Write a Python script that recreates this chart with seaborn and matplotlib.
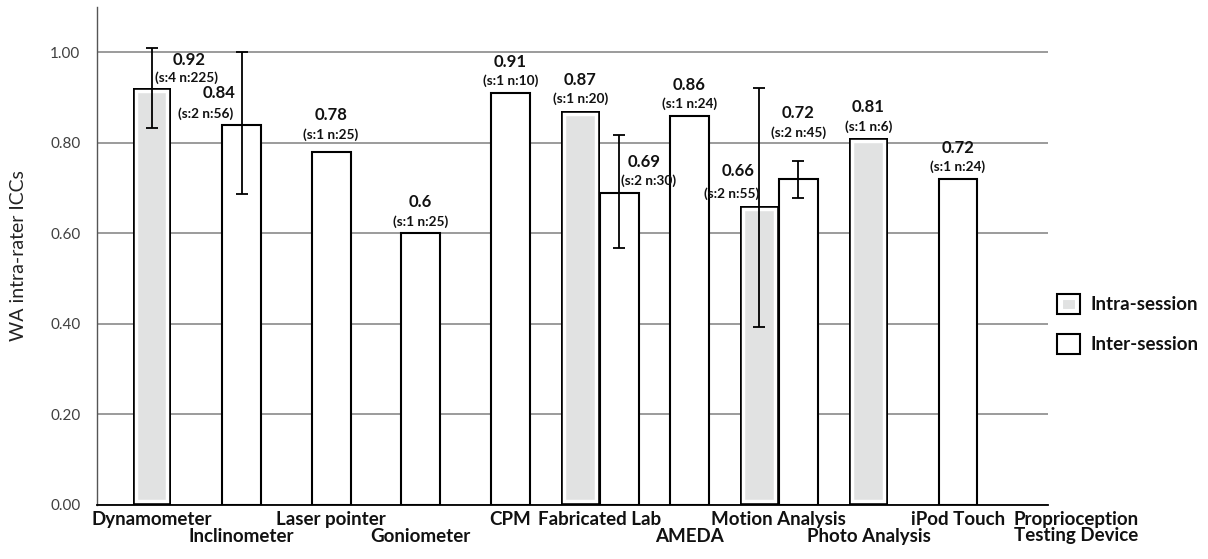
import numpy as np
import pandas as pd
import matplotlib
matplotlib.use("Agg")
import matplotlib.pyplot as plt
import matplotlib.patheffects as pe
from matplotlib.patches import Patch
from matplotlib.transforms import ScaledTranslation
import seaborn as sns

# ---------------- data ----------------
categories = ["Dynamometer", "Inclinometer", "Laser pointer", "Goniometer", "CPM",
              "Fabricated Lab", "AMEDA", "Motion Analysis", "Photo Analysis",
              "iPod Touch", "Proprioception Testing Device"]
tick_labels = ["Dynamometer", "Inclinometer", "Laser pointer", "Goniometer", "CPM",
               "Fabricated Lab", "AMEDA", "Motion Analysis", "Photo Analysis",
               "iPod Touch", "Proprioception\nTesting Device"]

bar_category = ["Dynamometer", "Inclinometer", "Laser pointer", "Goniometer", "CPM",
                "Fabricated Lab", "Fabricated Lab", "AMEDA", "Motion Analysis",
                "Motion Analysis", "Photo Analysis", "iPod Touch"]
bar_session = ["Intra-session", "Inter-session", "Inter-session", "Inter-session",
               "Inter-session", "Intra-session", "Inter-session", "Inter-session",
               "Intra-session", "Inter-session", "Intra-session", "Inter-session"]
bar_icc = [0.92, 0.84, 0.78, 0.60, 0.91, 0.87, 0.69, 0.86, 0.66, 0.72, 0.81, 0.72]
bar_studies = [4, 2, 1, 1, 1, 1, 2, 1, 2, 2, 1, 1]
bar_n = [225, 56, 25, 25, 10, 20, 30, 24, 55, 45, 6, 24]
ci_low = [0.832, 0.686, np.nan, np.nan, np.nan, np.nan, 0.567, np.nan, 0.393, 0.678, np.nan, np.nan]
ci_high = [1.009, 1.000, np.nan, np.nan, np.nan, np.nan, 0.817, np.nan, 0.922, 0.759, np.nan, np.nan]

sessions = ["Intra-session", "Inter-session"]

# ---------------- layout helpers ----------------
second_row_ticks = [1, 3, 6, 8]          # staggered x labels (lower row)
shifted_ticks = {10: 29}                 # extra horizontal shift (px)
label_offsets = {                        # (dx_val, dy_val, dx_sub, dy_sub) in px
    0: (37, 28, 35, 11),
    1: (-22, 32, -36, 11),
    2: (0, 37, 0, 17),
    6: (25, 31, 29, 12),
    8: (-21, 35, -28, 13),
    9: (0, 66, 0, 46),
}

# ---------------- style ----------------
sns.set_style("white")
plt.rcParams["font.family"] = ["Lato", "DejaVu Sans"]

GREY = "#e1e2e2"
palette = {"Intra-session": GREY, "Inter-session": "white"}

df = pd.DataFrame({"category": bar_category, "session": bar_session, "icc": bar_icc,
                   "s": bar_studies, "n": bar_n, "lo": ci_low, "hi": ci_high})
counts = df["category"].value_counts()
df["paired"] = df["category"].map(counts) > 1

fig = plt.figure(figsize=(12.08, 5.59), dpi=100)
ax = fig.add_axes([97 / 1208, 1 - 505 / 559, (1048 - 97) / 1208, 498 / 559])

common = dict(x="category", y="icc", hue="session", order=categories, hue_order=sessions,
              palette=palette, edgecolor="black", linewidth=1.5, saturation=1,
              errorbar=None, legend=False, ax=ax, zorder=3)
sns.barplot(data=df[~df["paired"]], dodge=False, width=0.435, **common)
sns.barplot(data=df[df["paired"]], dodge=True, width=0.87, **common)

# locate the bar of every row
cat_idx = {c: i for i, c in enumerate(categories)}
bars = []
for _, r in df.iterrows():
    best = None
    for p in ax.patches:
        cx = p.get_x() + p.get_width() / 2
        if round(cx) == cat_idx[r["category"]] and abs(p.get_height() - r["icc"]) < 1e-9:
            fc = matplotlib.colors.to_hex(p.get_facecolor())
            if fc == matplotlib.colors.to_hex(palette[r["session"]]):
                best = p
    bars.append(best)

# intra-session bars: soft grey core inside a white margin
for p, sess in zip(bars, df["session"]):
    if sess == "Intra-session":
        p.set_path_effects([pe.Stroke(linewidth=7.5, foreground="white"),
                            pe.PathPatchEffect(facecolor="none", edgecolor="black", linewidth=2.6)])
        p.set_clip_path(p)

# error bars
for p, (_, r) in zip(bars, df.iterrows()):
    if not np.isnan(r["lo"]):
        cx = p.get_x() + p.get_width() / 2
        ax.errorbar([cx], [r["icc"]], yerr=[[r["icc"] - r["lo"]], [r["hi"] - r["icc"]]],
                    fmt="none", ecolor="black", elinewidth=1.3, capsize=4.5, capthick=1.3,
                    zorder=5)

# value labels
k = 0.72
for i, (p, (_, r)) in enumerate(zip(bars, df.iterrows())):
    cx = p.get_x() + p.get_width() / 2
    dxv, dyv, dxs, dys = label_offsets.get(i, (0, 31, 0, 12))
    ax.annotate(f"{r['icc']:g}", (cx, r["icc"]), xytext=(dxv * k, dyv * k),
                textcoords="offset points", ha="center", va="center",
                fontsize=12, fontweight="bold", color="#111111", zorder=6)
    ax.annotate(f"(s:{r['s']} n:{r['n']})", (cx, r["icc"]), xytext=(dxs * k, dys * k),
                textcoords="offset points", ha="center", va="center",
                fontsize=9.8, fontweight="bold", color="#111111", zorder=6)

# axes styling
ax.set_ylim(0, 1.10)
ax.set_xlim(-0.614, 10.005)
ax.set_yticks(np.arange(0, 1.01, 0.2))
ax.set_yticklabels([f"{v:.2f}" for v in np.arange(0, 1.01, 0.2)], fontsize=11, color="#404040")
ax.set_xticks(range(len(categories)))
ax.set_xticklabels(tick_labels, fontsize=13.5, fontweight="bold", color="#111111",
                   linespacing=0.9)
ax.tick_params(axis="x", length=0, pad=4.5)
ax.tick_params(axis="y", direction="inout", length=7, width=1, color="#555555", pad=8.5)
ax.set_xlabel("")
ax.set_ylabel("WA intra-rater ICCs", fontsize=14, color="#222222")
ax.yaxis.set_label_coords(-0.074, 0.5)
for s in ["top", "right"]:
    ax.spines[s].set_visible(False)
ax.spines["left"].set_color("#555555")
ax.spines["left"].set_linewidth(1.0)
ax.spines["bottom"].set_color("black")
ax.spines["bottom"].set_linewidth(1.3)
ax.yaxis.grid(True, color="#808080", linewidth=1.1, zorder=0)
ax.set_axisbelow(True)

# stagger the x labels
xlabels = ax.get_xticklabels()
for i, lab in enumerate(xlabels):
    dx = shifted_ticks.get(i, 0) / 100
    dy = -17 / 100 if i in second_row_ticks else 0
    if dx or dy:
        lab.set_transform(lab.get_transform() + ScaledTranslation(dx, dy, fig.dpi_scale_trans))

# legend
leg_fx = [pe.Stroke(linewidth=8, foreground="white"),
          pe.PathPatchEffect(facecolor="none", edgecolor="black", linewidth=1.5)]
handles = [Patch(facecolor=GREY, edgecolor="black", linewidth=1.5, path_effects=leg_fx, label="Intra-session"),
           Patch(facecolor="white", edgecolor="black", linewidth=1.5, label="Inter-session")]
leg = ax.legend(handles=handles, loc="center left", bbox_to_anchor=(1057 / 1208, 1 - 324 / 559),
                bbox_transform=fig.transFigure, frameon=False, borderpad=0, borderaxespad=0,
                handlelength=1.2, handleheight=1.2, handletextpad=0.6, labelspacing=1.1,
                prop={"size": 13.5, "weight": "bold"})
for t in leg.get_texts():
    t.set_color("#111111")

fig.savefig("out.png", dpi=100)
